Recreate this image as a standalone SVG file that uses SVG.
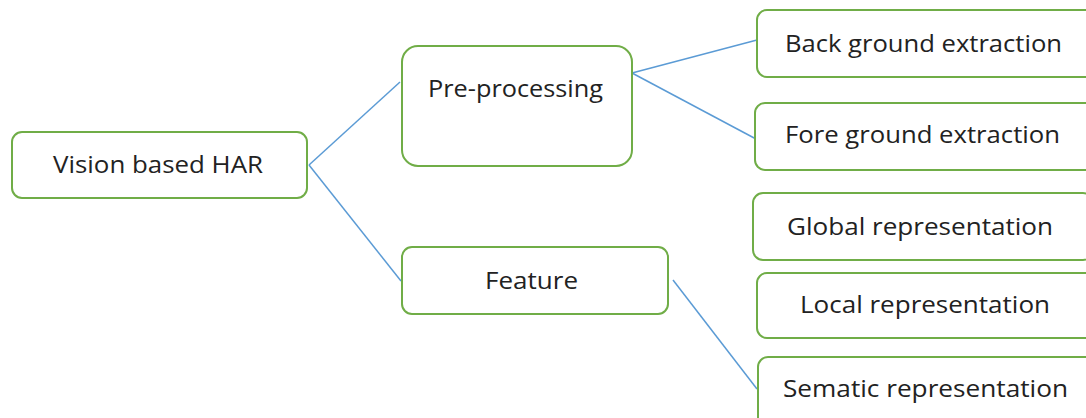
<svg xmlns="http://www.w3.org/2000/svg" width="1086" height="418" viewBox="0 0 1086 418">
<style>
.box{fill:#fff;stroke:#70AD47;stroke-width:2}
.t{font-family:"Open Sans","Liberation Sans",sans-serif;font-size:24px;fill:#222;text-anchor:start}
.c{stroke:#5B9BD5;stroke-width:1.5;fill:none}
</style>
<rect width="1086" height="418" fill="#fff"/>
<g id="connectors">
<line class="c" x1="309" y1="165" x2="400" y2="82"/>
<line class="c" x1="309" y1="165" x2="401" y2="281"/>
<line class="c" x1="632" y1="73" x2="757" y2="40"/>
<line class="c" x1="632" y1="73" x2="756" y2="139"/>
<line class="c" x1="673" y1="280" x2="757" y2="389"/>
</g>
<g id="n-har"><rect class="box" x="12" y="132" width="295" height="66" rx="10"/><text class="t" x="53" y="173" textLength="210" lengthAdjust="spacingAndGlyphs">Vision based HAR</text></g>
<g id="n-pre"><rect class="box" x="402" y="46" width="230" height="120" rx="16"/><text class="t" x="428" y="97" textLength="175" lengthAdjust="spacingAndGlyphs">Pre-processing</text></g>
<g id="n-feature"><rect class="box" x="402" y="247" width="266" height="67" rx="10"/><text class="t" x="485" y="289" textLength="93" lengthAdjust="spacingAndGlyphs">Feature</text></g>
<g id="n-back"><rect class="box" x="757" y="10" width="340" height="67" rx="10"/><text class="t" x="785" y="52" textLength="277" lengthAdjust="spacingAndGlyphs">Back ground extraction</text></g>
<g id="n-fore"><rect class="box" x="755" y="103" width="340" height="67" rx="10"/><text class="t" x="785" y="143" textLength="275" lengthAdjust="spacingAndGlyphs">Fore ground extraction</text></g>
<g id="n-global"><rect class="box" x="753" y="193" width="340" height="67" rx="10"/><text class="t" x="787" y="235" textLength="266" lengthAdjust="spacingAndGlyphs">Global representation</text></g>
<g id="n-local"><rect class="box" x="757" y="273" width="340" height="65" rx="10"/><text class="t" x="800" y="313" textLength="250" lengthAdjust="spacingAndGlyphs">Local representation</text></g>
<g id="n-sematic"><rect class="box" x="758" y="357" width="340" height="75" rx="10"/><text class="t" x="783" y="397" textLength="285" lengthAdjust="spacingAndGlyphs">Sematic representation</text></g>
</svg>
